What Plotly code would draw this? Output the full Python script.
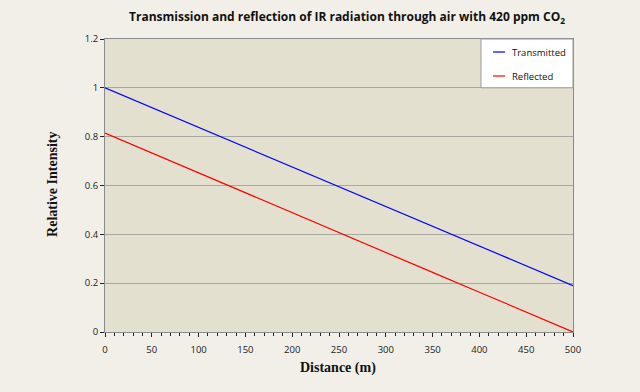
import plotly.graph_objects as go

distance = [0, 50, 100, 150, 200, 250, 300, 350, 400, 450, 500]
transmitted = [1.0, 0.919, 0.838, 0.757, 0.676, 0.595, 0.514, 0.433, 0.352, 0.271, 0.19]
reflected = [0.815, 0.733, 0.652, 0.570, 0.489, 0.407, 0.326, 0.244, 0.163, 0.081, 0.0]
series_names = ["Transmitted", "Reflected"]
series_colors = ["#0000ff", "#ff0000"]

x_ticks = [0, 50, 100, 150, 200, 250, 300, 350, 400, 450, 500]
y_ticks = [0, 0.2, 0.4, 0.6, 0.8, 1.0, 1.2]
y_tick_labels = ["0", "0.2", "0.4", "0.6", "0.8", "1", "1.2"]

sans = "Open Sans, Liberation Sans, sans-serif"
serif = "Liberation Serif, Times New Roman, serif"
tick_font = dict(family=sans, size=9.5, color="#222222")
axis_title_font = dict(family=serif, size=14, color="#111111")

fig = go.Figure()
for name, ys, col in zip(series_names, [transmitted, reflected], series_colors):
    fig.add_trace(go.Scatter(x=distance, y=ys, mode="lines", name=name,
                             line=dict(color=col, width=1.2), showlegend=False))

# manual legend box (styled like the reference)
shapes = [dict(type="rect", xref="paper", yref="paper", x0=0.8034, x1=1.0, y0=0.8335, y1=1.0,
               fillcolor="#ffffff", line=dict(color="#9a9a9a", width=1), layer="above")]
annotations = []
for i, (name, col) in enumerate(zip(series_names, series_colors)):
    yy = [0.9556, 0.8737][i]
    shapes.append(dict(type="line", xref="paper", yref="paper", x0=0.829, x1=0.855, y0=yy, y1=yy,
                       line=dict(color=col, width=1.2), layer="above"))
    annotations.append(dict(text=name, xref="paper", yref="paper", x=0.865, y=yy, xanchor="left",
                            yanchor="middle", showarrow=False,
                            font=dict(family=sans, size=9.5, color="#111111")))

annotations.append(dict(text="<b>Relative Intensity</b>", xref="paper", yref="paper",
                        x=(53 - 105) / 468, y=0.502, textangle=-90, showarrow=False,
                        xanchor="center", yanchor="middle", font=axis_title_font))
annotations.append(dict(text="<b>Distance (m)</b>", xref="paper", yref="paper",
                        x=0.498, y=-0.123, showarrow=False,
                        xanchor="center", yanchor="middle", font=axis_title_font))

fig.update_layout(
    width=640, height=392,
    margin=dict(l=105, r=67, t=39, b=60, autoexpand=False),
    paper_bgcolor="#f1efe8",
    plot_bgcolor="#e3e0cf",
    title=dict(text="<b>Transmission and reflection of IR radiation through air with 420 ppm CO<sub>2</sub></b>",
               x=347/640, xanchor="center", y=1 - 17/392, yanchor="middle",
               font=dict(family=sans, size=12, color="#111111")),
    showlegend=False,
    shapes=shapes,
    annotations=annotations,
    xaxis=dict(range=[0, 500], tickvals=x_ticks, ticktext=[str(v) for v in x_ticks],
               showgrid=False, zeroline=False, showline=True, linecolor="#8a8a8a", linewidth=1,
               mirror=True, ticks="outside", ticklen=4, tickcolor="#222222",
               minor=dict(dtick=10, ticks="outside", ticklen=3, tickcolor="#222222"),
               tickfont=tick_font, ticklabelstandoff=5, automargin=False),
    yaxis=dict(range=[0, 1.2], tickvals=y_ticks, ticktext=y_tick_labels,
               showgrid=True, gridcolor="#a8a8a0", gridwidth=1, zeroline=False,
               showline=True, linecolor="#8a8a8a", linewidth=1, mirror=True,
               ticks="outside", ticklen=4, tickcolor="#222222",
               tickfont=tick_font, automargin=False),
)

fig.write_html("out.html", config={"displayModeBar": False},
               post_script="document.body.style.margin='0';document.body.style.background='#f1efe8';")
